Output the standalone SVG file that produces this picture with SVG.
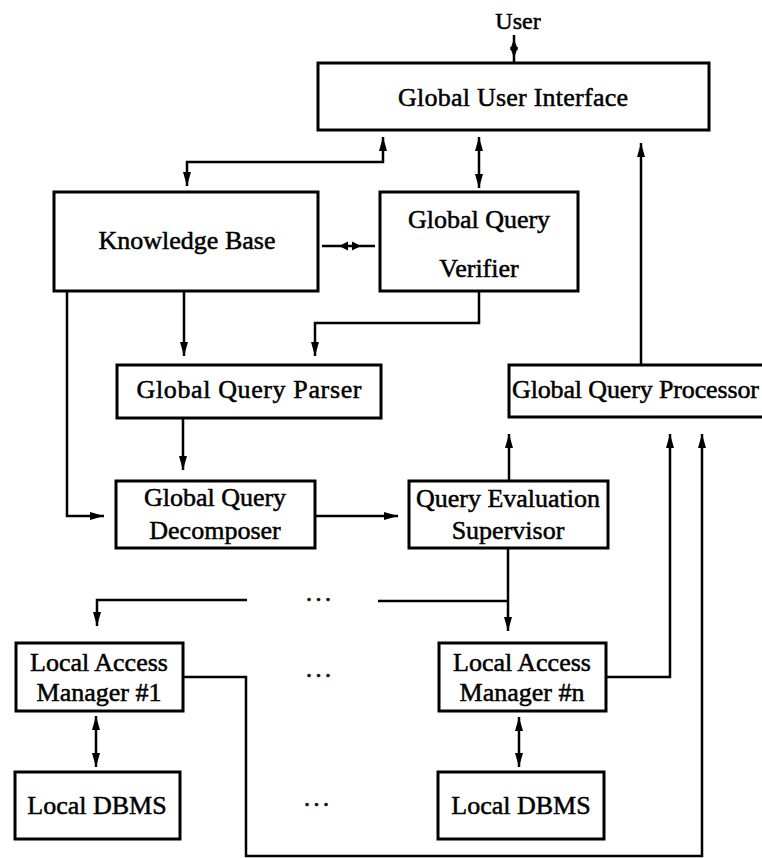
<svg xmlns="http://www.w3.org/2000/svg" width="762" height="858" viewBox="0 0 762 858">
<defs>
<style>
.box{fill:#fff;stroke:#000;stroke-width:3}
.ln{fill:none;stroke:#000;stroke-width:2.5}
.hd{fill:#000;stroke:none}
text{font-family:"Liberation Serif","Times New Roman",serif;font-size:26px;fill:#000;stroke:#000;stroke-width:0.5}
.c{text-anchor:middle}
</style>
<marker id="ah" viewBox="0 0 14 8" refX="14" refY="4" markerWidth="14" markerHeight="8" markerUnits="userSpaceOnUse" orient="auto-start-reverse">
<path d="M0,0 L14,4 L0,8 z" fill="#000"/>
</marker>
</defs>
<rect width="762" height="858" fill="#fff"/>

<g id="connectors">
<!-- User <-> GUI -->
<path class="ln" d="M514,35 V63"/>
<polygon class="hd" points="514,39 518,50 510,50"/>
<polygon class="hd" points="514,58 518,47 510,47"/>
<!-- GUI <-> KB -->
<path class="ln" d="M383,137 V162 H187 V186" marker-start="url(#ah)" marker-end="url(#ah)"/>
<!-- GUI <-> Verifier -->
<path class="ln" d="M479,137 V188" marker-start="url(#ah)" marker-end="url(#ah)"/>
<!-- KB <-> Verifier -->
<path class="ln" d="M322,246 H375"/>
<polygon class="hd" points="339,246 348,241.5 348,250.5"/>
<polygon class="hd" points="361,246 352,241.5 352,250.5"/>
<!-- KB -> Parser -->
<path class="ln" d="M184,291 V356" marker-end="url(#ah)"/>
<!-- Verifier -> Parser -->
<path class="ln" d="M479,291 V323 H315 V356" marker-end="url(#ah)"/>
<!-- KB -> Decomposer -->
<path class="ln" d="M67,291 V516 H104" marker-end="url(#ah)"/>
<!-- Parser -> Decomposer -->
<path class="ln" d="M183,418 V470" marker-end="url(#ah)"/>
<!-- Decomposer -> QES -->
<path class="ln" d="M315,516 H398" marker-end="url(#ah)"/>
<!-- QES -> GQP -->
<path class="ln" d="M509,481 V434" marker-end="url(#ah)"/>
<!-- QES -> Local Access Managers -->
<path class="ln" d="M508,548 V631" marker-end="url(#ah)"/>
<path class="ln" d="M508,601 H378"/>
<path class="ln" d="M247,600 H97 V626" marker-end="url(#ah)"/>
<!-- LAM #n -> GQP -->
<path class="ln" d="M606,677 H670 V434" marker-end="url(#ah)"/>
<!-- LAM #1 -> GQP -->
<path class="ln" d="M183,677 H246 V856 H702 V434" marker-end="url(#ah)"/>
<!-- LAM <-> DBMS -->
<path class="ln" d="M96,716 V767" marker-start="url(#ah)" marker-end="url(#ah)"/>
<path class="ln" d="M519,717 V767" marker-start="url(#ah)" marker-end="url(#ah)"/>
<!-- GQP -> GUI -->
<path class="ln" d="M641,365 V143" marker-end="url(#ah)"/>
</g>

<g id="user"><text class="c" x="518" y="29" style="font-size:24px">User</text></g>

<g id="gui">
<rect class="box" x="318" y="63" width="391" height="67"/>
<text class="c" x="513" y="106" textLength="230" lengthAdjust="spacing">Global User Interface</text>
</g>

<g id="kb">
<rect class="box" x="54" y="192" width="264" height="99"/>
<text class="c" x="187" y="249">Knowledge Base</text>
</g>

<g id="verifier">
<rect class="box" x="380" y="192" width="198" height="99"/>
<text class="c" x="479" y="228">Global Query</text>
<text class="c" x="479" y="277">Verifier</text>
</g>

<g id="parser">
<rect class="box" x="117" y="365" width="264" height="53"/>
<text class="c" x="249" y="398" textLength="225" lengthAdjust="spacing">Global Query Parser</text>
</g>

<g id="gqp">
<rect class="box" x="509" y="365" width="270" height="52"/>
<text x="512" y="398" textLength="247" lengthAdjust="spacing">Global Query Processor</text>
</g>

<g id="decomposer">
<rect class="box" x="116" y="481" width="199" height="67"/>
<text class="c" x="215" y="506">Global Query</text>
<text class="c" x="215" y="539">Decomposer</text>
</g>

<g id="qes">
<rect class="box" x="409" y="481" width="199" height="67"/>
<text class="c" x="508" y="507">Query Evaluation</text>
<text class="c" x="508" y="539">Supervisor</text>
</g>

<g id="lam1">
<rect class="box" x="16" y="643" width="167" height="68"/>
<text class="c" x="99" y="671">Local Access</text>
<text class="c" x="99" y="701">Manager #1</text>
</g>

<g id="lamn">
<rect class="box" x="439" y="643" width="167" height="68"/>
<text class="c" x="522" y="671">Local Access</text>
<text class="c" x="522" y="701">Manager #n</text>
</g>

<g id="dbms1">
<rect class="box" x="15" y="772" width="165" height="67"/>
<text class="c" x="97" y="814">Local DBMS</text>
</g>

<g id="dbmsn">
<rect class="box" x="438" y="772" width="166" height="67"/>
<text class="c" x="521" y="814">Local DBMS</text>
</g>

<g id="ellipses">
<text class="c" x="320" y="601" style="letter-spacing:3px">...</text>
<text class="c" x="320" y="677" style="letter-spacing:3px">...</text>
<text class="c" x="318" y="806" style="letter-spacing:3px">...</text>
</g>
</svg>
